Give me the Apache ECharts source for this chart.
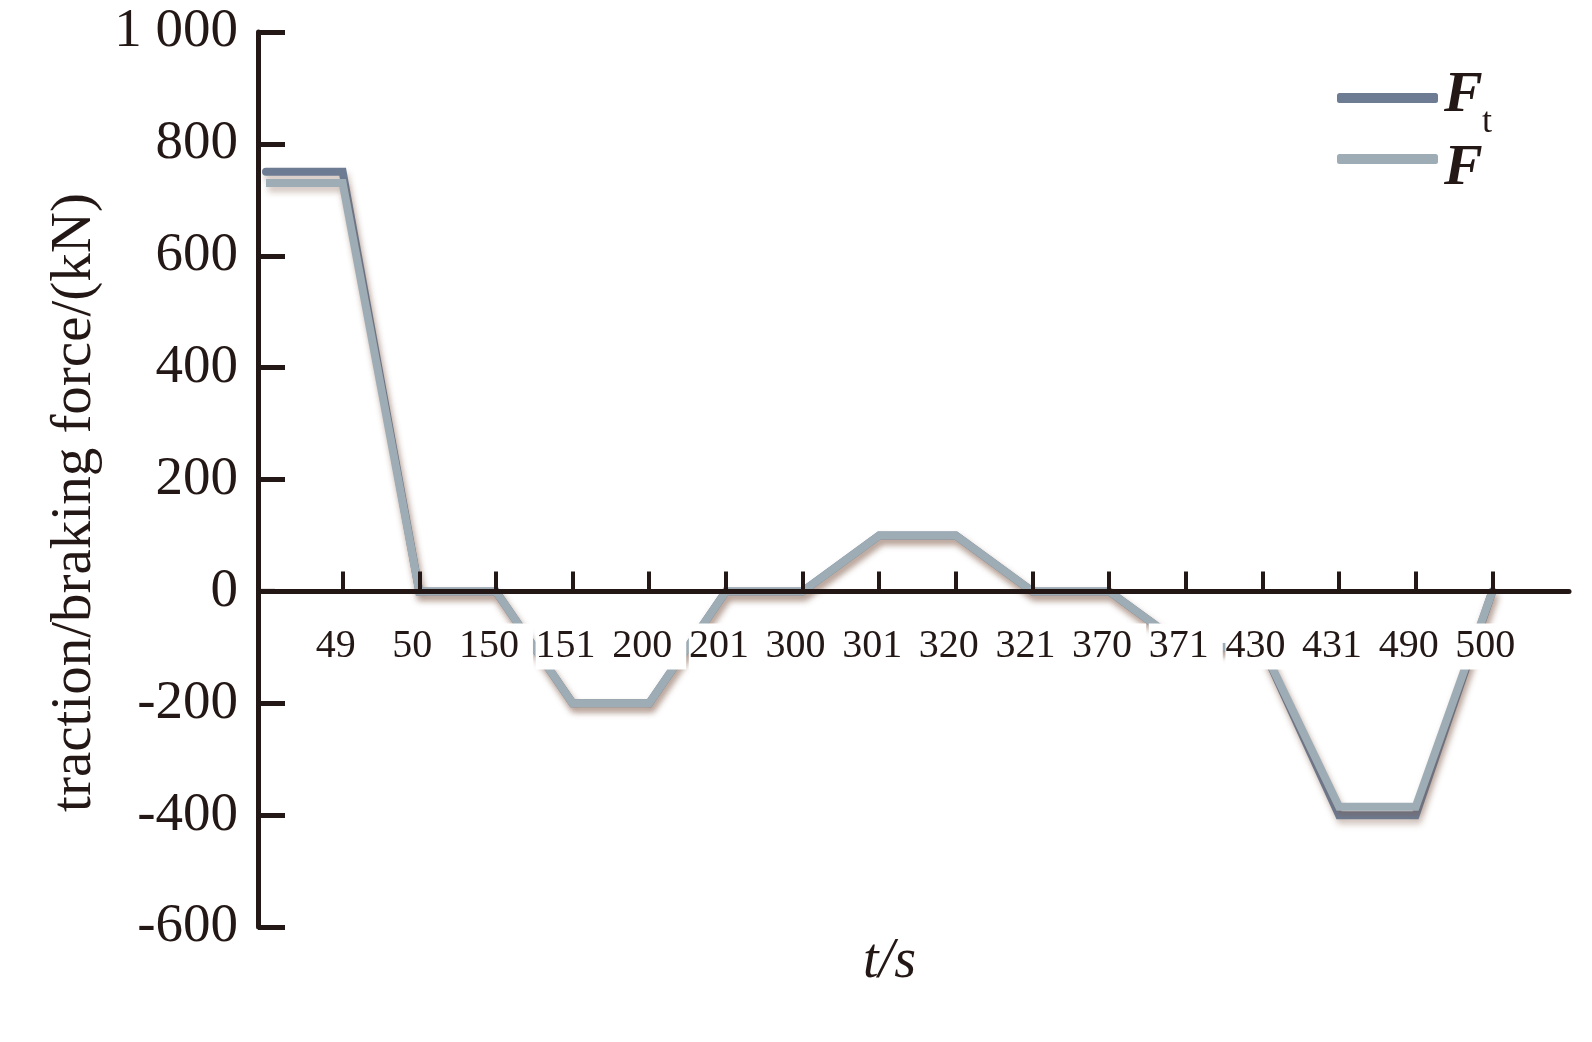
<!DOCTYPE html>
<html>
<head>
<meta charset="utf-8">
<script src="https://cdn.jsdelivr.net/npm/echarts@6.0.0/dist/echarts.min.js"></script>
<style>
html,body{margin:0;padding:0;background:#fff;}
#chart{width:1592px;height:1042px;}
</style>
</head>
<body>
<div id="chart"></div>
<script>
// time points (s) on the category axis; first point is t = 0 at the origin (label not shown)
const categories = ['0','49','50','150','151','200','201','300','301','320','321','370','371','430','431','490','500'];
// traction/braking force Ft (kN)
const seriesFt = [750,750,0,0,-200,-200,0,0,100,100,0,0,-100,-100,-400,-400,0];
// resultant force F (kN)
const seriesF = [730,730,0,0,-200,-200,0,0,100,100,0,0,-100,-100,-385,-385,0];
// y tick values and their printed labels
const yTicks = [-600,-400,-200,0,200,400,600,800,1000];
const yTickLabels = ['-600','-400','-200','0','200','400','600','800','1 000'];

const INK = '#231815';
const SERIF = "'Liberation Serif','Times New Roman',serif";
const legendBase = {
  orient:'vertical', left:1337, padding:0, itemWidth:101, itemHeight:10, itemGap:0,
  icon:'roundRect', formatter:function(){ return ''; },
  textStyle:{fontSize:8, padding:0}
};
const legendLabelFont = {fontFamily:SERIF, fontSize:58, fontStyle:'italic', fontWeight:'bold', fill:INK, align:'left', verticalAlign:'middle'};

const chart = echarts.init(document.getElementById('chart'), null, {renderer:'canvas'});
chart.setOption({
  backgroundColor:'#ffffff',
  animation:false,
  grid:{left:266,right:23,top:32,bottom:115,outerBoundsMode:'none'},
  legend:[
    Object.assign({}, legendBase, {top:93, data:['Ft']}),
    Object.assign({}, legendBase, {top:154, data:['F']})
  ],
  graphic:[
    {type:'text', x:1444, y:96, z:10, style:Object.assign({text:'F'}, legendLabelFont)},
    {type:'text', x:1482, y:123, z:10, style:{text:'t', fontFamily:SERIF, fontSize:36, fill:INK, align:'left', verticalAlign:'middle'}},
    {type:'text', x:1444, y:169, z:10, style:Object.assign({text:'F'}, legendLabelFont)}
  ],
  xAxis:{
    type:'category', data:categories, boundaryGap:false, max:categories.length,
    z:3,
    name:'t/s', nameLocation:'middle', nameGap:343,
    nameTextStyle:{fontSize:56,fontStyle:'italic',fontFamily:SERIF,color:INK,padding:[0,56,0,0]},
    axisLine:{onZero:false,symbol:['rect','none'],symbolSize:[5,18],lineStyle:{color:INK,width:5}},
    axisTick:{inside:true,length:20,lineStyle:{color:INK,width:4},
      interval:function(i){ return i>0 && i<categories.length; }},
    axisLabel:{
      interval:function(i){ return i>0 && i<categories.length; },
      showMinLabel:true, showMaxLabel:true, hideOverlap:false,
      fontSize:40, fontFamily:SERIF, color:INK, margin:32,
      backgroundColor:'#ffffff', padding:[3,14,3,0]
    },
    splitLine:{show:false}
  },
  yAxis:{
    type:'value', min:-600, max:1000, interval:200,
    z:3, offset:8,
    name:'traction/braking force/(kN)', nameLocation:'middle', nameGap:150,
    nameTextStyle:{fontSize:57,fontFamily:SERIF,color:INK,padding:[0,46,0,0]},
    axisLine:{show:true,lineStyle:{color:INK,width:5}},
    axisTick:{show:true,inside:true,length:27,lineStyle:{color:INK,width:5}},
    axisLabel:{
      fontSize:55, fontFamily:SERIF, color:INK, margin:20,
      formatter:function(v){ const k=yTicks.indexOf(v); return k>=0 ? yTickLabels[k] : String(v); }
    },
    splitLine:{show:false}
  },
  series:[
    {
      name:'Ft', type:'line', data:seriesFt, symbol:'none', z:1,
      color:'#6d7c93', itemStyle:{color:'#6d7c93'},
      lineStyle:{color:'#6d7c93',width:8,cap:'round',join:'miter',
        shadowColor:'rgba(120,80,60,0.35)',shadowBlur:6,shadowOffsetX:2,shadowOffsetY:5}
    },
    {
      name:'F', type:'line', data:seriesF, symbol:'none', z:2,
      color:'#9eadb5', itemStyle:{color:'#9eadb5'},
      lineStyle:{color:'#9eadb5',width:8,cap:'butt',join:'miter',
        shadowColor:'rgba(120,80,60,0.35)',shadowBlur:6,shadowOffsetX:2,shadowOffsetY:5}
    }
  ]
});
// move the x axis (line, ticks, labels, name) up to the y = 0 level
const zeroPx = chart.convertToPixel({yAxisIndex:0}, 0);
const bottomPx = chart.convertToPixel({yAxisIndex:0}, yTicks[0]);
chart.setOption({xAxis:{offset:-(bottomPx - zeroPx)}});
</script>
</body>
</html>
